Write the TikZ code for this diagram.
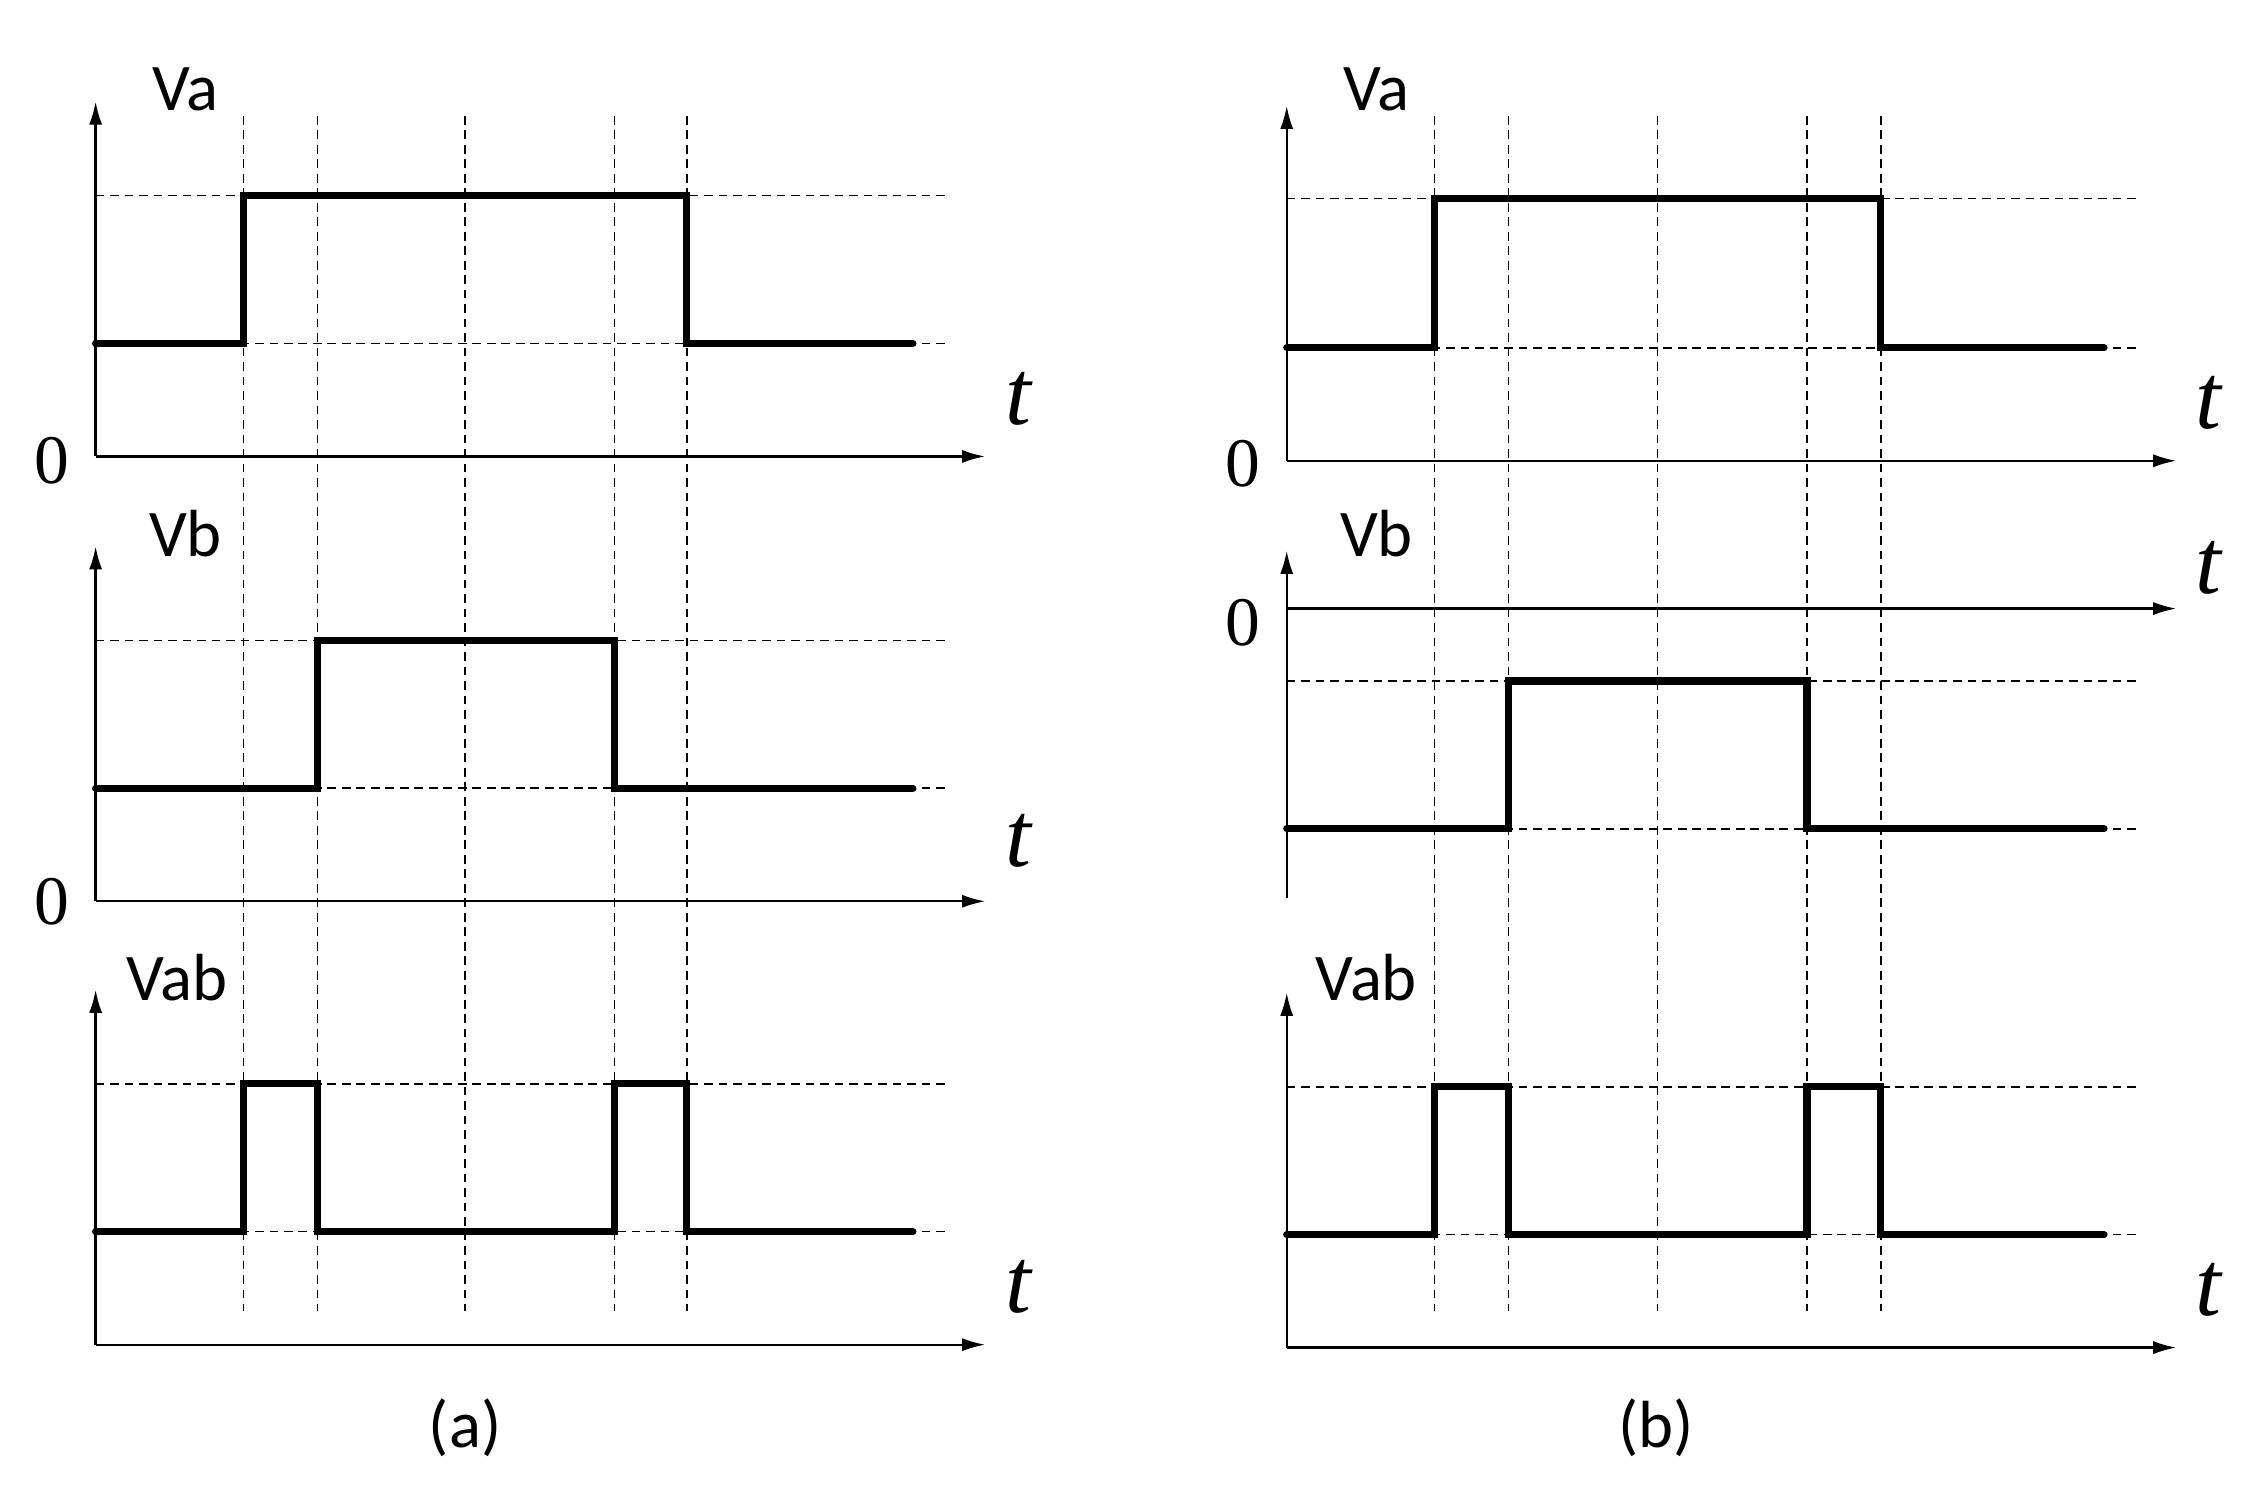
\documentclass[tikz,border=0pt]{standalone}
\usepackage{fontspec}
\setmainfont{Carlito}
\newfontfamily\tms{Liberation Serif}
\usetikzlibrary{arrows.meta}
\begin{document}
\begin{tikzpicture}[x=1pt,y=-1pt,
 ax/.style={line width=1.6pt,-{Latex[length=16pt,width=9pt]}},
 dsh/.style={line width=1.1pt,dash pattern=on 6pt off 4pt},
 wv/.style={line width=5pt,line cap=round,line join=miter},
 lab/.style={font=\fontsize{46}{46}\selectfont},
 tt/.style={font=\fontsize{64}{64}\selectfont\tms\itshape},
 zz/.style={font=\fontsize{48}{48}\selectfont\tms}]
\useasboundingbox (0,0) rectangle (1559,1032);
% ---------- panel (a)
\foreach \x in {168,219,321,424,474} \draw[dsh] (\x,80) -- (\x,905);
\foreach \y in {135,237,442,544,748,850} \draw[dsh] (66,\y) -- (655,\y);
\foreach \y/\top in {315/70,622/377,928/683}{
 \draw[dsh] (66,\y) -- (66,\top+20);
 \draw[ax] (66,\y) -- (66,\top);
 \draw[ax] (66,\y) -- (680,\y);}
\draw[wv] (66,237) -- (168,237) -- (168,135) -- (474,135) -- (474,237) -- (630,237);
\draw[wv] (66,544) -- (219,544) -- (219,442) -- (424,442) -- (424,544) -- (630,544);
\draw[wv] (66,850) -- (168,850) -- (168,748) -- (219,748) -- (219,850) -- (424,850) -- (424,748) -- (474,748) -- (474,850) -- (630,850);
\node[lab] (va) at (128,62) {Va};
\node[lab] (vb) at (128,368) {Vb};
\node[lab] (vab) at (122,675) {Vab};
\node[zz] (z1) at (36,318) {0};
\node[zz] (z2) at (36,622) {0};
\node[tt] (t1) at (703,275) {t};
\node[tt] (t2) at (703,580) {t};
\node[tt] (t3) at (703,888) {t};
\node[lab] (pa) at (321,985) {(a)};
% ---------- panel (b)
\foreach \x in {990,1041,1144,1247,1298} \draw[dsh] (\x,80) -- (\x,905);
\foreach \y in {137,240,470,572,750,852} \draw[dsh] (888,\y) -- (1477,\y);
\draw[dsh] (888,318) -- (888,93); \draw[ax] (888,318) -- (888,73); \draw[ax] (888,318) -- (1502,318);
\draw[dsh] (888,620) -- (888,400); \draw[ax] (888,620) -- (888,380); \draw[ax] (888,420) -- (1502,420);
\draw[dsh] (888,930) -- (888,705); \draw[ax] (888,930) -- (888,685); \draw[ax] (888,930) -- (1502,930);
\draw[wv] (888,240) -- (990,240) -- (990,137) -- (1298,137) -- (1298,240) -- (1452,240);
\draw[wv] (888,572) -- (1041,572) -- (1041,470) -- (1247,470) -- (1247,572) -- (1452,572);
\draw[wv] (888,852) -- (990,852) -- (990,750) -- (1041,750) -- (1041,852) -- (1247,852) -- (1247,750) -- (1298,750) -- (1298,852) -- (1452,852);
\node[lab] (vba) at (950,62) {Va};
\node[lab] (vbb) at (950,368) {Vb};
\node[lab] (vbab) at (943,675) {Vab};
\node[zz] (z3) at (858,320) {0};
\node[zz] (z4) at (858,430) {0};
\node[tt] (t4) at (1524,278) {t};
\node[tt] (t5) at (1524,392) {t};
\node[tt] (t6) at (1524,890) {t};
\node[lab] (pb) at (1143,985) {(b)};
\end{tikzpicture}
\end{document}
